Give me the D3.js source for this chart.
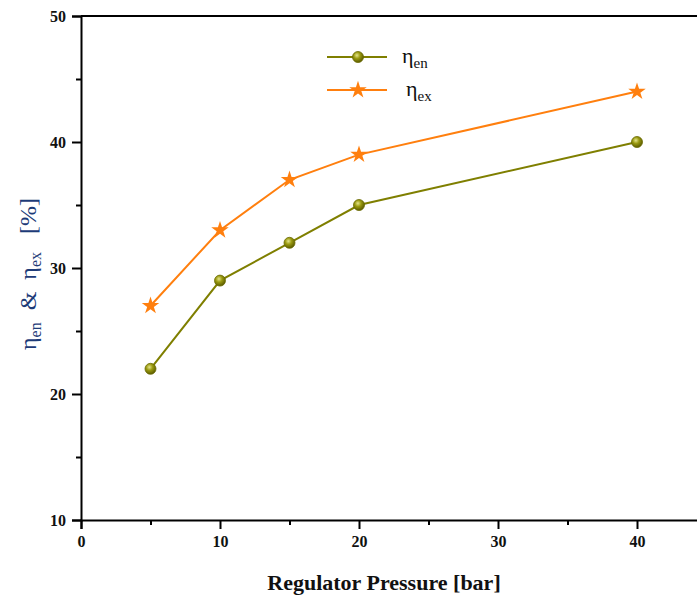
<!DOCTYPE html>
<html lang="en">
<head>
    <meta charset="UTF-8">
    <script src="https://d3js.org/d3.v7.min.js"></script>
    <style>
        body { margin: 0; background: white; }
        text { font-family: "Liberation Serif", "Times New Roman", serif; }
    </style>
</head>
<body>
    <svg width="697" height="597"></svg>
    <script>
        // data
        var pressure = [5, 10, 15, 20, 40];
        var etaEn = [22, 29, 32, 35, 40];
        var etaEx = [27, 33, 37, 39, 44];
        var xTicks = [0, 10, 20, 30, 40];
        var yTicks = [10, 20, 30, 40, 50];

        var svg = d3.select("svg");
        var olive = "#7f7f00", orange = "#ff7f0e";

        var x_ = d3.scaleLinear().domain([0, 45]).range([81, 81 + 45 * 13.9]);
        var y_ = d3.scaleLinear().domain([10, 50]).range([520, 16]);

        // sphere gradient for the circle markers
        var defs = svg.append("defs");
        var grad = defs.append("radialGradient").attr("id", "ball")
            .attr("cx", "40%").attr("cy", "35%").attr("r", "65%");
        grad.append("stop").attr("offset", "0%").attr("stop-color", "#e4e48a");
        grad.append("stop").attr("offset", "45%").attr("stop-color", "#9a9a10");
        grad.append("stop").attr("offset", "100%").attr("stop-color", "#5c5c00");

        // axes
        svg.append("g").attr("transform", "translate(0,520)")
            .call(d3.axisBottom(x_).tickValues(xTicks).tickSize(9).tickPadding(7).tickFormat(d3.format("d")));
        svg.append("g").attr("transform", "translate(0,520)")
            .call(d3.axisBottom(x_).tickValues([5, 15, 25, 35]).tickSize(5).tickFormat(""))
            .select(".domain").remove();
        svg.append("g").attr("transform", "translate(81,0)")
            .call(d3.axisLeft(y_).tickValues(yTicks).tickSize(9).tickPadding(6).tickFormat(d3.format("d")));
        svg.append("g").attr("transform", "translate(81,0)")
            .call(d3.axisLeft(y_).tickValues([15, 25, 35, 45]).tickSize(5).tickFormat(""))
            .select(".domain").remove();
        svg.append("line").attr("x1", 81).attr("x2", 697).attr("y1", 16).attr("y2", 16)
            .attr("stroke", "black").attr("stroke-width", 2);

        svg.selectAll(".domain").attr("stroke-width", 2);
        svg.selectAll(".tick line").attr("stroke-width", 2);
        svg.selectAll(".tick text")
            .style("font-family", "'Liberation Serif', serif")
            .style("font-size", "16px").style("font-weight", "bold").attr("fill", "#111");

        // lines
        var line = d3.line().x(function(d) { return x_(d[0]); }).y(function(d) { return y_(d[1]); });
        var enData = pressure.map(function(p, i) { return [p, etaEn[i]]; });
        var exData = pressure.map(function(p, i) { return [p, etaEx[i]]; });

        svg.append("path").datum(enData).attr("d", line)
            .attr("fill", "none").attr("stroke", olive).attr("stroke-width", 2);
        svg.append("path").datum(exData).attr("d", line)
            .attr("fill", "none").attr("stroke", orange).attr("stroke-width", 2);

        var star = d3.symbol().type(d3.symbolStar).size(95);

        svg.selectAll(".en").data(enData).enter().append("circle")
            .attr("class", "en")
            .attr("cx", function(d) { return x_(d[0]); })
            .attr("cy", function(d) { return y_(d[1]); })
            .attr("r", 5.5)
            .attr("fill", "url(#ball)").attr("stroke", "#6a6a00").attr("stroke-width", 0.8);

        svg.selectAll(".ex").data(exData).enter().append("path")
            .attr("class", "ex")
            .attr("d", star)
            .attr("transform", function(d) { return "translate(" + x_(d[0]) + "," + y_(d[1]) + ")"; })
            .attr("fill", orange);

        // legend
        svg.append("line").attr("x1", 327).attr("x2", 387).attr("y1", 57).attr("y2", 57)
            .attr("stroke", olive).attr("stroke-width", 2);
        svg.append("circle").attr("cx", 358).attr("cy", 57).attr("r", 5.5)
            .attr("fill", "url(#ball)").attr("stroke", "#6a6a00").attr("stroke-width", 0.8);
        svg.append("line").attr("x1", 327).attr("x2", 387).attr("y1", 90).attr("y2", 90)
            .attr("stroke", orange).attr("stroke-width", 2);
        svg.append("path").attr("d", star).attr("transform", "translate(358,90)").attr("fill", orange);

        var l1 = svg.append("text").attr("x", 402).attr("y", 63).attr("font-size", 22).attr("fill", "#111");
        l1.append("tspan").text("η");
        l1.append("tspan").attr("font-size", 15).attr("dy", 5).text("en");
        var l2 = svg.append("text").attr("x", 406).attr("y", 96).attr("font-size", 22).attr("fill", "#111");
        l2.append("tspan").text("η");
        l2.append("tspan").attr("font-size", 15).attr("dy", 5).text("ex");

        // axis titles
        svg.append("text")
            .attr("x", 384).attr("y", 590)
            .attr("text-anchor", "middle")
            .attr("font-size", 22).attr("font-weight", "bold").attr("fill", "#111")
            .text("Regulator Pressure [bar]");

        var yt = svg.append("text")
            .attr("transform", "translate(36,274) rotate(-90)")
            .attr("text-anchor", "middle")
            .attr("font-size", 24).attr("fill", "#1d3b78")
            .style("white-space", "pre");
        yt.append("tspan").text("η");
        yt.append("tspan").attr("font-size", 16).attr("dy", 5).text("en");
        yt.append("tspan").attr("dy", -5).text("  &  η");
        yt.append("tspan").attr("font-size", 16).attr("dy", 5).text("ex");
        yt.append("tspan").attr("dy", -5).text("   [%]");
    </script>
</body>
</html>
